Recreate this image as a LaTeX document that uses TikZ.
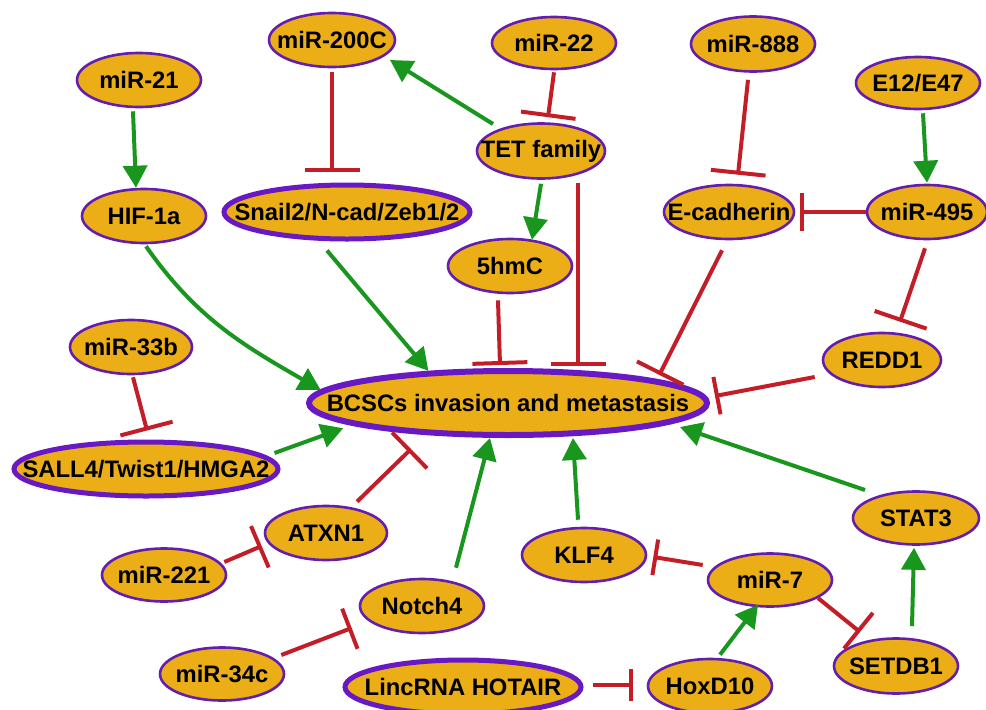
\documentclass[tikz,border=0pt]{standalone}
\usepackage{fontspec}
\setmainfont{Liberation Sans}
\usetikzlibrary{shapes.geometric,arrows.meta}
\definecolor{myorange}{RGB}{235,174,23}
\definecolor{mypurple}{RGB}{100,30,175}
\definecolor{mypurple2}{RGB}{105,25,195}
\definecolor{myred}{RGB}{195,30,40}
\definecolor{mygreen}{RGB}{25,150,30}
\tikzset{
  nd/.style={ellipse, draw=mypurple, fill=myorange, line width=2.6pt, inner sep=0pt,
    font=\bfseries\fontsize{23.8}{26}\selectfont},
  thick nd/.style={nd, draw=mypurple2, line width=5pt},
  act/.style={draw=mygreen, line width=4pt, -{Triangle[length=22pt,width=24pt]}},
  inh/.style={draw=myred, line width=4pt, -{Bar[width=#1]}},
  inh/.default=55pt
}
\begin{document}
\begin{tikzpicture}[x=1pt,y=-1pt]
\useasboundingbox (0,0) rectangle (986,710);
% nodes
\node[nd, minimum width=126pt, minimum height=54pt] (m200) at (332,40) {\makebox[0pt]{miR-200C}};
\node[nd, minimum width=124pt, minimum height=54pt] (m21) at (139,80) {\makebox[0pt]{miR-21}};
\node[nd, minimum width=124pt, minimum height=54pt] (hif) at (144,216) {\makebox[0pt]{HIF-1a}};
\node[thick nd, minimum width=246pt, minimum height=54pt] (snail) at (347,212) {\makebox[0pt]{Snail2/N-cad/Zeb1/2}};
\node[nd, minimum width=128pt, minimum height=55pt] (tet) at (541,151) {\makebox[0pt]{TET family}};
\node[nd, minimum width=124pt, minimum height=52pt] (m22) at (554,43) {\makebox[0pt]{miR-22}};
\node[nd, minimum width=124pt, minimum height=55pt] (m888) at (753,44) {\makebox[0pt]{miR-888}};
\node[nd, minimum width=124pt, minimum height=52pt] (e12) at (918,83) {\makebox[0pt]{E12/E47}};
\node[nd, minimum width=130pt, minimum height=54pt] (ecad) at (729,212) {\makebox[0pt]{E-cadherin}};
\node[nd, minimum width=120pt, minimum height=54pt] (m495) at (927,212) {\makebox[0pt]{miR-495}};
\node[nd, minimum width=124pt, minimum height=54pt] (hmc) at (510,266) {\makebox[0pt]{5hmC}};
\node[nd, minimum width=118pt, minimum height=54pt] (redd) at (882,360) {\makebox[0pt]{REDD1}};
\node[nd, draw=mypurple2, line width=6pt, minimum width=398pt, minimum height=64pt] (bcsc) at (508,403) {\makebox[0pt]{BCSCs invasion and metastasis}};
\node[nd, minimum width=122pt, minimum height=54pt] (m33) at (131,347) {\makebox[0pt]{miR-33b}};
\node[thick nd, minimum width=264pt, minimum height=54pt] (sall) at (146,469) {\makebox[0pt]{SALL4/Twist1/HMGA2}};
\node[nd, minimum width=122pt, minimum height=54pt] (atxn) at (326,533) {\makebox[0pt]{ATXN1}};
\node[nd, minimum width=124pt, minimum height=53pt] (m221) at (164,575) {\makebox[0pt]{miR-221}};
\node[nd, minimum width=124pt, minimum height=54pt] (notch) at (422,606) {\makebox[0pt]{Notch4}};
\node[nd, minimum width=124pt, minimum height=53pt] (m34) at (222,674) {\makebox[0pt]{miR-34c}};
\node[thick nd, minimum width=236pt, minimum height=54pt] (hotair) at (463,687) {\makebox[0pt]{LincRNA HOTAIR}};
\node[nd, minimum width=124pt, minimum height=54pt] (hox) at (710,686) {\makebox[0pt]{HoxD10}};
\node[nd, minimum width=124pt, minimum height=54pt] (klf) at (584,555) {\makebox[0pt]{KLF4}};
\node[nd, minimum width=124pt, minimum height=53pt] (m7) at (770,580) {\makebox[0pt]{miR-7}};
\node[nd, minimum width=126pt, minimum height=53pt] (stat) at (916,518) {\makebox[0pt]{STAT3}};
\node[nd, minimum width=124pt, minimum height=55pt] (setdb) at (896,666) {\makebox[0pt]{SETDB1}};
% activation
\draw[act] ([xshift=-6pt,yshift=-3pt]m21.south) -- ([xshift=-8pt]hif.north);
\draw[act] ([xshift=-48pt,yshift=27pt]tet.center) -- ([xshift=58pt,yshift=-20pt]m200.center);
\draw[act] ([yshift=-4pt]tet.south) -- ([xshift=22pt,yshift=-2pt]hmc.north);
\draw[act] ([xshift=2pt,yshift=-2pt]hif.south) to[out=-55,in=150] (bcsc.176);
\draw[act] ([xshift=-20pt,yshift=-9pt]snail.south) -- (bcsc.158);
\draw[act] ([xshift=5pt,yshift=-3pt]e12.south) -- ([yshift=1pt]m495.north);
\draw[act] ([xshift=-6pt,yshift=16pt]sall.east) -- ([yshift=-5pt]bcsc.187);
\draw[act] ([xshift=34pt,yshift=10pt]notch.north) -- ([xshift=-18pt]bcsc.south);
\draw[act] ([xshift=-6pt,yshift=7pt]klf.north) -- ([xshift=65pt]bcsc.south);
\draw[act] ([xshift=-51pt,yshift=28pt]stat.center) -- ([xshift=172pt,yshift=-24pt]bcsc.center);
\draw[act] ([xshift=10pt,yshift=3pt]hox.north) -- ([xshift=-12pt,yshift=3pt]m7.south);
\draw[act] ([xshift=16pt,yshift=11pt]setdb.north) -- ([xshift=-2pt,yshift=-2pt]stat.south);
% inhibition
\draw[inh] ([yshift=-4pt]m200.south) -- ([xshift=-15pt,yshift=11pt]snail.north);
\draw[inh] ([yshift=-2pt]m22.south) -- ([xshift=7pt,yshift=5pt]tet.north);
\draw[inh] ([xshift=37pt,yshift=-3pt]tet.south) -- ([xshift=70pt,yshift=2pt]bcsc.north);
\draw[inh] ([xshift=-12pt,yshift=-6pt]hmc.south) -- ([xshift=-8pt,yshift=3pt]bcsc.north);
\draw[inh] ([xshift=-5pt,yshift=-7pt]m888.south) -- ([xshift=9pt,yshift=9pt]ecad.north);
\draw[inh=38pt] (m495.west) -- ([xshift=5pt]ecad.east);
\draw[inh] ([xshift=-2pt,yshift=-8pt]m495.south) -- ([xshift=18pt,yshift=10pt]redd.north);
\draw[inh=52pt, shorten >=5pt] ([xshift=-7pt,yshift=-10pt]ecad.south) -- (bcsc.9);
\draw[inh=38pt] ([xshift=-7pt,yshift=-17pt]redd.west) -- ([xshift=5pt,yshift=7pt]bcsc.east);
\draw[inh=54pt] ([xshift=2pt,yshift=-2pt]m33.south) -- ([xshift=1pt,yshift=9pt]sall.north);
\draw[inh=50pt] ([xshift=31pt,yshift=3pt]atxn.north) -- ([xshift=-97pt,yshift=-46pt]bcsc.center);
\draw[inh=45pt] ([xshift=-3pt,yshift=13pt]m221.east) -- ([xshift=-2pt,yshift=-13pt]atxn.west);
\draw[inh=43pt] ([xshift=-4pt,yshift=19pt]m34.east) -- ([xshift=-7pt,yshift=-22pt]notch.west);
\draw[inh=36pt] ([xshift=-4pt,yshift=15pt]m7.west) -- ([xshift=6pt,yshift=-2pt]klf.east);
\draw[inh=46pt] ([xshift=48pt,yshift=-18pt]m7.center) -- ([xshift=-36pt,yshift=34pt]setdb.center);
\draw[inh=32pt] ([xshift=9pt,yshift=2pt]hotair.east) -- ([xshift=-14pt,yshift=1pt]hox.west);
\end{tikzpicture}
\end{document}
